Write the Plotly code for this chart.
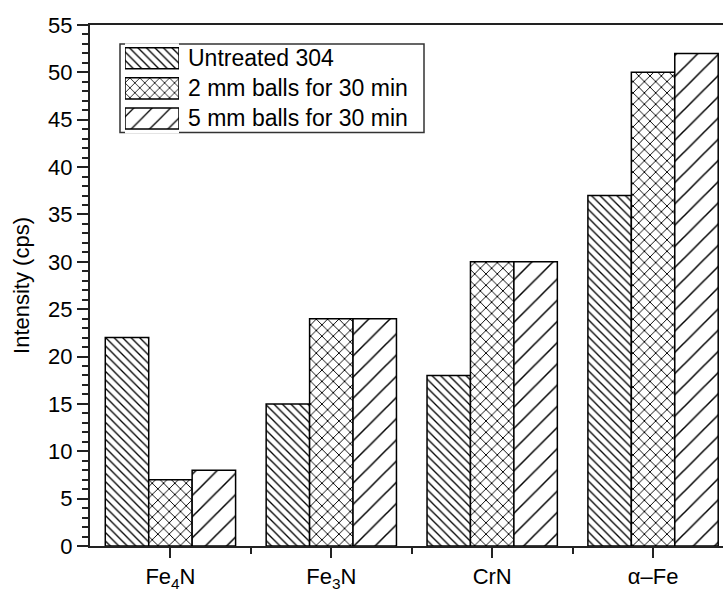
import plotly.graph_objects as go

categories = ["Fe<sub>4</sub>N", "Fe<sub>3</sub>N", "CrN", "α–Fe"]
series_names = ["Untreated 304", "2 mm balls for 30 min", "5 mm balls for 30 min"]
untreated = [22, 15, 18, 37]
balls_2mm = [7, 24, 30, 50]
balls_5mm = [8, 24, 30, 52]
y_ticks = [0, 5, 10, 15, 20, 25, 30, 35, 40, 45, 50, 55]

series = [untreated, balls_2mm, balls_5mm]
shapes_p = ["\\", "x", "/"]
sizes_p = [6, 8, 15]
solid_p = [0.22, 0.22, 0.1]

FONT = "Liberation Sans, Arial, sans-serif"
xpos = list(range(len(categories)))

fig = go.Figure()
for vals, shp, sz, so in zip(series, shapes_p, sizes_p, solid_p):
    fig.add_trace(go.Bar(
        x=xpos, y=vals, showlegend=False,
        marker=dict(color="white", line=dict(color="black", width=1.5),
                    pattern=dict(shape=shp, size=sz, solidity=so,
                                 fgcolor="black", bgcolor="white", fillmode="replace")),
        hoverinfo="skip",
    ))

# legend swatches as an inset
fig.add_trace(go.Bar(
    x=[1, 1, 1], y=[0, 1, 2], orientation="h", width=0.7, base=0,
    xaxis="x2", yaxis="y2", showlegend=False, hoverinfo="skip",
    marker=dict(color="white", line=dict(color="black", width=1.5),
                pattern=dict(shape=shapes_p, size=[6, 7, 13], solidity=[0.22, 0.22, 0.1],
                             fgcolor="black", bgcolor="white", fillmode="replace")),
))

W, H = 723, 592
L, T, B = 90, 25, 43
pw, ph = W - L, H - T - B

def px(x):
    return (x - L) / pw

def py(y):
    return (H - B - y) / ph

fig.update_layout(
    width=W, height=H,
    margin=dict(l=L, r=0, t=T, b=B),
    plot_bgcolor="white", paper_bgcolor="white",
    barmode="group", bargap=0.19, bargroupgap=0,
    font=dict(family=FONT, size=22, color="black"),
    xaxis=dict(
        range=[-0.5, (W - 170) / 161.0 - 0.0], tickvals=xpos, ticktext=categories,
        showgrid=False, zeroline=False, showline=True, linecolor="#222", linewidth=2,
        mirror=True, ticks="outside", ticklen=10, tickwidth=2, tickcolor="#222",
        minor=dict(tickvals=[0.5, 1.5, 2.5], ticks="outside", ticklen=6, tickwidth=2, tickcolor="#222"),
        tickfont=dict(size=22), domain=[0, 1],
    ),
    yaxis=dict(
        range=[0, 55], tickvals=y_ticks, showgrid=False, zeroline=False,
        showline=True, linecolor="#222", linewidth=2, mirror=False,
        ticks="outside", ticklen=11, tickwidth=2, tickcolor="#222",
        minor=dict(dtick=1, ticks="outside", ticklen=6, tickwidth=1.5, tickcolor="#222"),
        title=dict(text="Intensity (cps)", font=dict(size=22), standoff=12),
        tickfont=dict(size=22),
    ),
    xaxis2=dict(domain=[px(125), px(179)], range=[0, 1], anchor="y2",
                visible=False, fixedrange=True),
    yaxis2=dict(domain=[py(134.1), py(43.4)], range=[2.5, -0.5], anchor="x2",
                visible=False, fixedrange=True),
)

fig.add_shape(type="rect", xref="paper", yref="paper",
              x0=px(120), x1=px(424), y0=py(133), y1=py(44),
              line=dict(color="#333", width=1.5), fillcolor="rgba(0,0,0,0)", layer="below")

for name, yc in zip(series_names, [58.5, 88.5, 119]):
    fig.add_annotation(text=name, xref="paper", yref="paper", x=px(186), y=py(yc),
                       xanchor="left", yanchor="middle", showarrow=False,
                       font=dict(size=23, family=FONT, color="black"))

fig.write_html("out.html")
